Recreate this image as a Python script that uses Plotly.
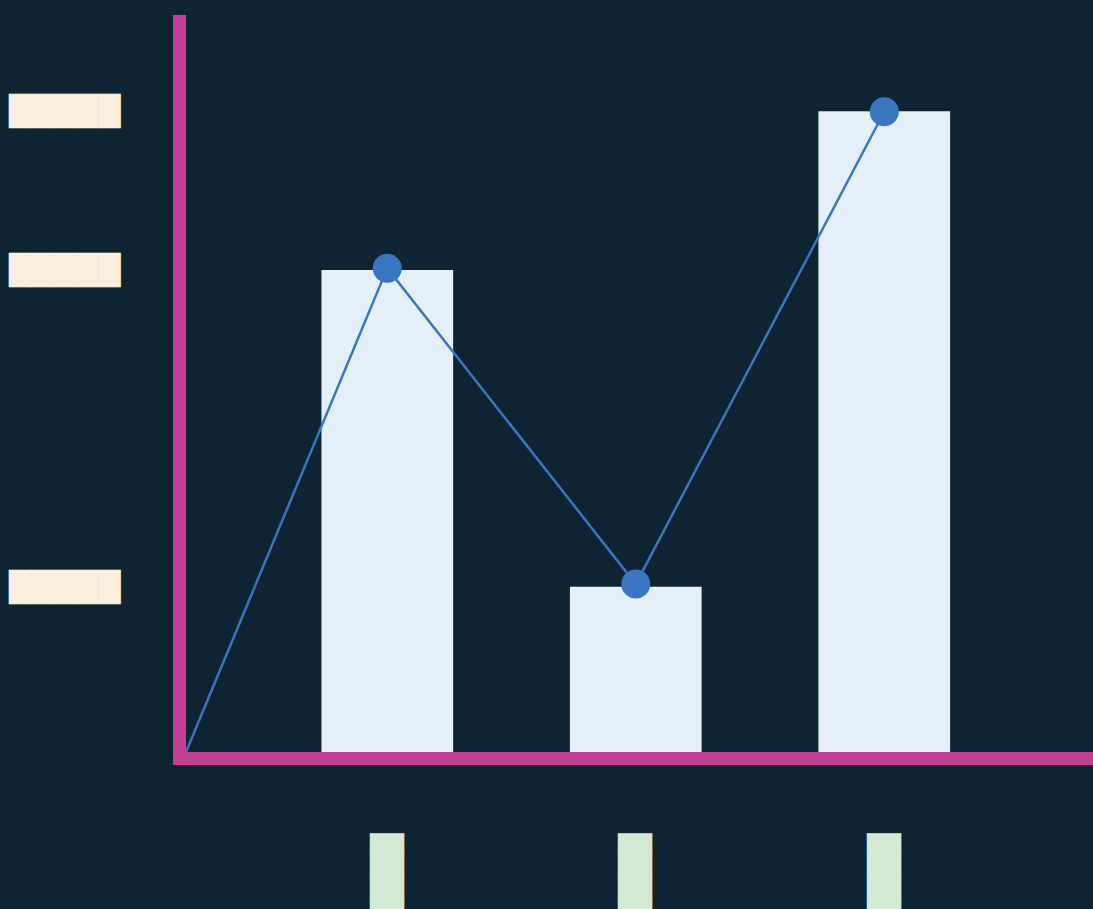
import plotly.graph_objects as go

# Data
bar_x = [1, 2, 3]
bar_values = [75.2, 25.8, 100.0]
line_x = [0.19, 1, 2, 3]
line_values = [0.0, 75.5, 26.2, 99.9]
marker_sizes = [0, 29, 29, 29]
y_tick_vals = [75.2, 25.8, 100.0]
y_tick_text = ["█████", "█████", "█████"]
x_tick_vals = [1, 2, 3]
x_tick_text = ["██████", "██████", "██████"]

BG = "#0F2433"
AXIS = "#C44094"
LINE = "#3A76C0"

fig = go.Figure()
fig.add_trace(go.Bar(x=bar_x, y=bar_values, width=0.53,
                     marker=dict(color="#E4EFF9", line=dict(width=0)),
                     showlegend=False, hoverinfo="skip"))
fig.add_trace(go.Scatter(x=line_x, y=line_values, mode="lines+markers",
                         line=dict(color=LINE, width=2.5),
                         marker=dict(size=marker_sizes, color=LINE, opacity=1,
                                     line=dict(width=0, color=LINE)),
                         showlegend=False, cliponaxis=False, hoverinfo="skip"))

fig.update_layout(
    width=1093, height=909,
    margin=dict(l=186, r=0, t=15, b=157, pad=0),
    paper_bgcolor=BG, plot_bgcolor=BG,
    font=dict(family="DejaVu Sans"),
    hovermode=False,
    xaxis=dict(range=[0.19, 3.84], showgrid=False, zeroline=False,
               showline=True, linecolor=AXIS, linewidth=13,
               tickvals=x_tick_vals, ticktext=x_tick_text, tickangle=-90,
               tickfont=dict(size=29, color="#D3E9D5"),
               ticks="", ticklabelstandoff=57, automargin=False),
    yaxis=dict(range=[0, 115], showgrid=False, zeroline=False,
               showline=True, linecolor=AXIS, linewidth=13,
               tickvals=y_tick_vals, ticktext=y_tick_text,
               tickfont=dict(size=29, color="#F9EFDC"),
               ticks="", ticklabelstandoff=47, automargin=False),
)

fig.write_html("out.html", config={"displayModeBar": False, "staticPlot": True},
               post_script="document.body.style.margin='0';document.body.style.overflow='hidden';")
